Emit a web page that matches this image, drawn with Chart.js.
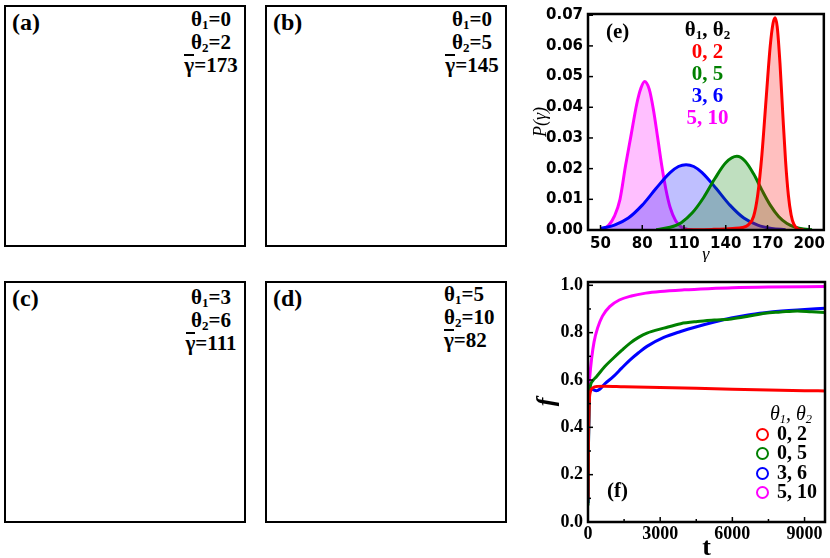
<!DOCTYPE html>
<html>
<head>
<meta charset="utf-8">
<script src="https://cdn.jsdelivr.net/npm/chart.js@4.4.0/dist/chart.umd.min.js"></script>
<style>
  body { margin: 0; background: #fff; }
  #page { position: relative; width: 830px; height: 558px; overflow: hidden; font-family: 'Liberation Serif', serif; }
  .snap { position: absolute; width: 242px; height: 242px; border: 2.5px solid #000; box-sizing: border-box; background: #fff; }
  .tag { position: absolute; left: 3px; top: 2px; font-weight: bold; font-size: 24px; background: rgba(255,255,255,0.85); padding: 0 3px; }
  .params { position: absolute; left: 172px; width: 66px; text-align: center; font-weight: bold; font-size: 21px; line-height: 23px; background: rgba(255,255,255,0.85); }
  sub { font-size: 0.62em; vertical-align: -0.25em; line-height: 0; }
  .bar { display: inline-block; border-top: 2px solid #000; line-height: 17px; padding-top: 1px; }
  canvas { position: absolute; }
  #legE { position: absolute; left: 660px; top: 18px; width: 95px; text-align: center; font-weight: bold; font-size: 21px; line-height: 22px; }
  #legF { position: absolute; left: 756px; top: 404px; font-size: 20px; line-height: 19.5px; }
  #legF .hd { font-style: italic; padding-left: 14px; }
  #legF .row { font-weight: bold; white-space: nowrap; }
  #legF .ring { display: inline-block; width: 9px; height: 9px; border: 2.5px solid; border-radius: 50%; margin-right: 8px; vertical-align: -1px; }
  .plab { position: absolute; font-weight: bold; font-size: 21px; }
</style>
</head>
<body>
<div id="page">
  <div class="snap" style="left:4px;top:5px">
    <div class="tag">(a)</div>
    <div class="params" style="top:1px">θ<sub>1</sub>=0<br>θ<sub>2</sub>=2<br><span class="bar">γ</span>=173</div>
  </div>
  <div class="snap" style="left:265px;top:5px">
    <div class="tag">(b)</div>
    <div class="params" style="top:1px">θ<sub>1</sub>=0<br>θ<sub>2</sub>=5<br><span class="bar">γ</span>=145</div>
  </div>
  <div class="snap" style="left:4px;top:281px">
    <div class="tag">(c)</div>
    <div class="params" style="top:3px">θ<sub>1</sub>=3<br>θ<sub>2</sub>=6<br><span class="bar">γ</span>=111</div>
  </div>
  <div class="snap" style="left:265px;top:281px">
    <div class="tag">(d)</div>
    <div class="params" style="top:0px;left:177px;text-align:left;background:none">θ<sub>1</sub>=5<br>θ<sub>2</sub>=10<br><span class="bar">γ</span>=82</div>
  </div>

  <canvas id="chartE" width="300" height="262" style="left:530px;top:0px"></canvas>
  <canvas id="chartF" width="300" height="296" style="left:530px;top:262px"></canvas>

  <div class="plab" style="left:606px;top:19px">(e)</div>
  <div id="legE"></div>
  <div class="plab" style="left:607px;top:478px">(f)</div>
  <div id="legF"></div>
</div>

<script>
// series labels (θ1, θ2) and their colours
const pairLabels = ["0, 2", "0, 5", "3, 6", "5, 10"];
const lineColors = ["#ff0000", "#008000", "#0000ff", "#ff00ff"];
const fillColors = ["rgba(255,0,0,0.25)", "rgba(0,128,0,0.25)", "rgba(0,0,255,0.25)", "rgba(255,0,255,0.25)"];

// panel (e): distribution P(gamma)
const gammaRed = [110, 130, 145, 152, 156, 160, 163, 166, 169, 172, 174, 175.5, 177, 179, 181, 183, 185, 187, 189, 192, 196];
const pRed = [0, 0.0002, 0.0005, 0.0008, 0.0016, 0.0044, 0.0115, 0.0246, 0.0426, 0.0601, 0.0674, 0.0692, 0.0662, 0.0542, 0.0378, 0.0225, 0.0114, 0.0049, 0.0018, 0.0003, 0];
const gammaGreen = [90, 100, 108, 116, 124, 132, 140, 148, 154, 160, 166, 172, 178, 184, 190, 196, 202];
const pGreen = [0.0001, 0.0009, 0.0024, 0.0056, 0.0105, 0.0166, 0.0219, 0.0240, 0.0224, 0.0183, 0.0130, 0.0081, 0.0044, 0.0021, 0.0009, 0.0003, 0.0001];
const gammaBlue = [50, 60, 70, 80, 90, 100, 106, 111.5, 117, 123, 133, 143, 153, 163, 173, 183];
const pBlue = [0.0005, 0.0016, 0.0039, 0.0081, 0.0136, 0.0187, 0.0207, 0.0213, 0.0207, 0.0187, 0.0136, 0.0081, 0.0039, 0.0016, 0.0005, 0.0001];
const gammaMagenta = [50, 52, 56, 60, 64, 68, 72, 76, 79, 81.7, 85, 88, 91, 94, 97, 100, 104, 108, 112, 116];
const pMagenta = [0, 0.0002, 0.0016, 0.0045, 0.0100, 0.0210, 0.0310, 0.0410, 0.0462, 0.0484, 0.0459, 0.0393, 0.0303, 0.0210, 0.0132, 0.0074, 0.0030, 0.0010, 0.0003, 0];
const gammaTicks = [50, 80, 110, 140, 170, 200];
const pTicks = [0, 0.01, 0.02, 0.03, 0.04, 0.05, 0.06, 0.07];

// panel (f): fraction f against time t
const tRed = [0, 20, 50, 100, 200, 400, 700, 1500, 3000, 4500, 6000, 7500, 9000, 9850];
const fRed = [0.10, 0.35, 0.50, 0.55, 0.567, 0.573, 0.574, 0.571, 0.568, 0.565, 0.561, 0.558, 0.555, 0.554];
const tGreen = [0, 20, 50, 100, 200, 350, 700, 1050, 1400, 1750, 2100, 2450, 3150, 3850, 4550, 5250, 5950, 6650, 7350, 8000, 8700, 9300, 9850];
const fGreen = [0.07, 0.33, 0.52, 0.575, 0.597, 0.614, 0.657, 0.692, 0.725, 0.756, 0.780, 0.798, 0.819, 0.838, 0.847, 0.853, 0.858, 0.869, 0.882, 0.887, 0.892, 0.888, 0.885];
const tBlue = [0, 20, 50, 100, 200, 350, 500, 700, 1050, 1400, 1750, 2100, 2450, 3150, 3850, 4550, 5250, 5950, 6650, 7350, 8050, 8700, 9850];
const fBlue = [0.08, 0.33, 0.52, 0.565, 0.560, 0.555, 0.562, 0.584, 0.614, 0.650, 0.685, 0.715, 0.742, 0.780, 0.805, 0.826, 0.845, 0.862, 0.875, 0.884, 0.891, 0.896, 0.903];
const tMagenta = [0, 15, 40, 80, 150, 250, 400, 600, 900, 1300, 1800, 2400, 3000, 4000, 5000, 6000, 7500, 9850];
const fMagenta = [0.08, 0.35, 0.55, 0.62, 0.69, 0.76, 0.82, 0.87, 0.91, 0.938, 0.955, 0.967, 0.974, 0.981, 0.986, 0.990, 0.993, 0.995];
const tTicks = [0, 3000, 6000, 9000];
const tMinor = [1500, 4500, 7500];
const fTicks = [0, 0.2, 0.4, 0.6, 0.8, 1.0];
const fMinor = [0.1, 0.3, 0.5, 0.7, 0.9];

const toPts = (xs, ys) => xs.map((x, i) => ({ x: x, y: ys[i] }));

// inward tick marks and the heavy frame round the plot area
const inTicks = {
  id: "inTicks",
  afterDraw(chart, args, opts) {
    const { ctx, chartArea: a, scales } = chart;
    ctx.save();
    ctx.strokeStyle = "#000";
    ctx.lineWidth = 1.5;
    const mark = (list, len, horiz) => (list || []).forEach((v) => {
      ctx.beginPath();
      if (horiz) {
        const p = scales.x.getPixelForValue(v);
        ctx.moveTo(p, a.bottom); ctx.lineTo(p, a.bottom - len);
      } else {
        const p = scales.y.getPixelForValue(v);
        ctx.moveTo(a.left, p); ctx.lineTo(a.left + len, p);
      }
      ctx.stroke();
    });
    mark(opts.xMajor, 5, true);
    mark(opts.xMinor, 3, true);
    mark(opts.yMajor, 5, false);
    mark(opts.yMinor, 3, false);
    ctx.lineWidth = 2.5;
    ctx.strokeRect(a.left, a.top, a.right - a.left, a.bottom - a.top);
    ctx.restore();
  }
};

const fixTicks = (list) => (s) => { s.ticks = list.map((v) => ({ value: v })); };

// ---- panel (e)
const gammaSets = [[gammaRed, pRed], [gammaGreen, pGreen], [gammaBlue, pBlue], [gammaMagenta, pMagenta]];
const fontE = { family: "DejaVu Sans", weight: "bold", size: 15 };
new Chart(document.getElementById("chartE"), {
  type: "line",
  data: {
    datasets: gammaSets.map((s, i) => ({
      label: pairLabels[i],
      data: toPts(s[0], s[1]),
      borderColor: lineColors[i],
      backgroundColor: fillColors[i],
      fill: "origin",
      borderWidth: 3,
      pointRadius: 0,
      cubicInterpolationMode: "monotone"
    }))
  },
  options: {
    responsive: false,
    animation: false,
    layout: { padding: { left: 0, right: 2, top: 6, bottom: 0 } },
    plugins: {
      legend: { display: false },
      tooltip: { enabled: false },
      inTicks: { xMajor: gammaTicks, yMajor: pTicks }
    },
    scales: {
      x: {
        type: "linear", min: 41, max: 210.5,
        afterBuildTicks: fixTicks(gammaTicks),
        afterFit: (s) => { s.height = 32; },
        grid: { display: false, drawTicks: false },
        border: { display: false },
        ticks: { font: fontE, color: "#000", padding: 5, maxRotation: 0, autoSkip: false, callback: (v) => String(v) },
        title: { display: true, text: "γ", color: "#000", padding: { top: 0, bottom: -4 }, font: { family: "Liberation Serif", style: "italic", size: 18 } }
      },
      y: {
        min: 0, max: 0.0704,
        afterBuildTicks: fixTicks(pTicks),
        afterFit: (s) => { s.width = 58; },
        grid: { display: false, drawTicks: false },
        border: { display: false },
        ticks: { font: fontE, color: "#000", padding: 5, autoSkip: false, callback: (v) => v.toFixed(2) },
        title: { display: true, text: "P(γ)", color: "#000", padding: 0, font: { family: "Liberation Serif", style: "italic", size: 18 } }
      }
    }
  },
  plugins: [inTicks]
});

// ---- panel (f)
const timeSets = [[tRed, fRed], [tGreen, fGreen], [tBlue, fBlue], [tMagenta, fMagenta]];
const fontF = { family: "Liberation Serif", weight: "bold", size: 18 };
new Chart(document.getElementById("chartF"), {
  type: "line",
  data: {
    datasets: timeSets.map((s, i) => ({
      label: pairLabels[i],
      data: toPts(s[0], s[1]),
      borderColor: lineColors[i],
      borderWidth: 3,
      pointRadius: 0,
      fill: false,
      cubicInterpolationMode: "monotone"
    }))
  },
  options: {
    responsive: false,
    animation: false,
    layout: { padding: { left: 0, right: 5, top: 20, bottom: 0 } },
    plugins: {
      legend: { display: false },
      tooltip: { enabled: false },
      inTicks: { xMajor: tTicks, xMinor: tMinor, yMajor: fTicks, yMinor: fMinor }
    },
    scales: {
      x: {
        type: "linear", min: 0, max: 9850,
        afterBuildTicks: fixTicks(tTicks),
        afterFit: (s) => { s.height = 36; },
        grid: { display: false, drawTicks: false },
        border: { display: false },
        ticks: { font: fontF, color: "#000", padding: 2, maxRotation: 0, autoSkip: false, callback: (v) => String(v) },
        title: { display: true, text: "t", color: "#000", padding: { top: 0, bottom: -3 }, font: { family: "Liberation Serif", weight: "bold", size: 26, lineHeight: 1 } }
      },
      y: {
        min: 0, max: 1.014,
        afterBuildTicks: fixTicks(fTicks),
        afterFit: (s) => { s.width = 58; },
        grid: { display: false, drawTicks: false },
        border: { display: false },
        ticks: { font: fontF, color: "#000", padding: 5, autoSkip: false, callback: (v) => v.toFixed(1) },
        title: { display: true, text: "f", color: "#000", padding: 2, font: { family: "Liberation Serif", style: "italic", weight: "bold", size: 26 } }
      }
    }
  },
  plugins: [inTicks]
});

// legends built from the series labels
document.getElementById("legE").innerHTML =
  "θ<sub>1</sub>, θ<sub>2</sub><br>" +
  pairLabels.map((l, i) => `<span style="color:${lineColors[i]}">${l}</span>`).join("<br>");
document.getElementById("legF").innerHTML =
  `<div class="hd">θ<sub>1</sub>, θ<sub>2</sub></div>` +
  pairLabels.map((l, i) => `<div class="row"><span class="ring" style="border-color:${lineColors[i]}"></span>${l}</div>`).join("");
</script>
</body>
</html>
